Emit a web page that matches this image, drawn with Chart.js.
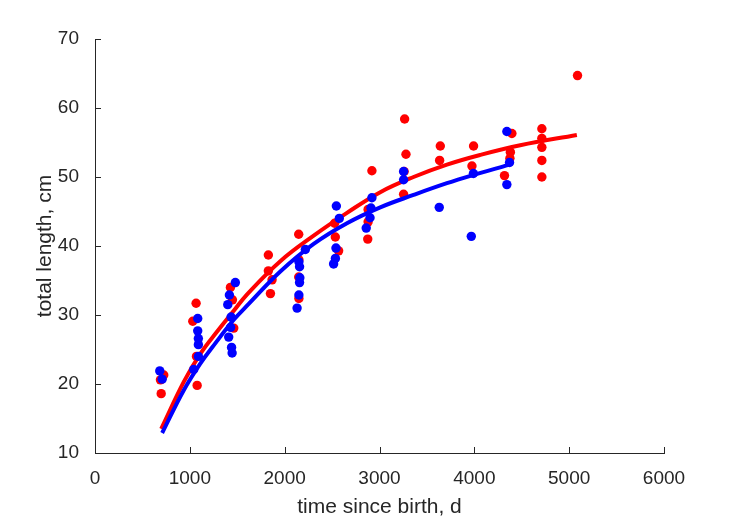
<!DOCTYPE html>
<html>
<head>
<meta charset="utf-8">
<script src="https://cdn.jsdelivr.net/npm/chart.js@4.4.1/dist/chart.umd.min.js"></script>
<style>
  html, body { margin: 0; padding: 0; background: #fff; }
  #wrap { width: 729px; height: 521px; }
</style>
</head>
<body>
<div id="wrap"><canvas id="c" width="729" height="521"></canvas></div>
<script>
// female (red) observations: time since birth (d), total length (cm)
var redT = [690, 725, 698, 1066, 1031, 1077, 1070, 1428, 1449, 1463, 1828, 1828, 1867, 1850,
  2148, 2150, 2148, 2150, 2527, 2534, 2569, 2920, 2880, 2880, 2876, 3265, 3279, 3254, 3260,
  3641, 3634, 3992, 3975, 4396, 4380, 4375, 4318, 4712, 4712, 4712, 4712, 4712, 5088];
var redL = [20.6, 21.3, 18.6, 31.7, 29.1, 19.8, 24.0, 34.0, 32.2, 28.1, 38.7, 36.4, 35.1, 33.1,
  41.7, 38.0, 35.5, 32.4, 43.3, 41.3, 39.3, 50.9, 45.3, 43.5, 41.0, 58.4, 53.3, 47.5, 50.8,
  54.5, 52.4, 54.5, 51.6, 56.3, 53.6, 52.7, 50.2, 57.0, 55.6, 54.3, 52.4, 50.0, 64.7];

// male (blue) observations
var blueT = [683, 708, 1083, 1083, 1090, 1090, 1090, 1041, 1417, 1400, 1435, 1430, 1410, 1440, 1446, 1480,
  2218, 2150, 2157, 2160, 2157, 2150, 2131, 2545, 2576, 2541, 2535, 2516,
  2920, 2910, 2900, 2860, 3254, 3254, 3630, 3990, 3968, 4343, 4371, 4343];
var blueL = [21.9, 20.7, 29.5, 27.7, 26.6, 25.7, 24.0, 22.1, 32.9, 31.5, 29.7, 28.2, 26.8, 25.3, 24.5, 34.7,
  39.5, 37.7, 37.0, 35.4, 34.7, 32.9, 31.0, 45.8, 44.0, 39.7, 38.2, 37.4,
  47.0, 45.5, 44.1, 42.6, 50.8, 49.6, 45.6, 50.5, 41.4, 56.6, 52.1, 48.9];

// fitted growth curves
var redFitT = [698, 936, 1112, 1288, 1463, 1604, 1954, 2306, 2657, 3008, 3359, 3711, 4062, 4484, 5081];
var redFitL = [13.5, 20.3, 24.4, 27.6, 30.6, 33.0, 37.8, 41.5, 44.8, 47.8, 50.0, 51.8, 53.2, 54.6, 56.1];
var blueFitT = [708, 936, 1112, 1252, 1463, 1621, 1954, 2306, 2657, 3008, 3359, 3711, 3992, 4273, 4365];
var blueFitL = [12.9, 19.1, 23.0, 25.6, 29.3, 31.6, 36.3, 40.3, 43.3, 45.6, 47.4, 49.1, 50.3, 51.4, 51.8];

var xTicks = [0, 1000, 2000, 3000, 4000, 5000, 6000];
var yTicks = [10, 20, 30, 40, 50, 60, 70];

function pts(xs, ys) {
  return xs.map(function (x, i) { return {x: x, y: ys[i]}; });
}

var axisColor = '#262626';
var tickFont = {family: 'Liberation Sans, Arial, Helvetica, sans-serif', size: 19};
var titleFont = {family: 'Liberation Sans, Arial, Helvetica, sans-serif', size: 21};

// matlab style ticks pointing into the plot
var innerTicks = {
  id: 'innerTicks',
  afterDraw: function (chart) {
    var ctx = chart.ctx, a = chart.chartArea;
    var sx = chart.scales.x, sy = chart.scales.y;
    ctx.save();
    ctx.strokeStyle = axisColor;
    ctx.lineWidth = 1;
    ctx.beginPath();
    xTicks.forEach(function (v) {
      var p = Math.round(sx.getPixelForValue(v)) + 0.5;
      ctx.moveTo(p, a.bottom);
      ctx.lineTo(p, a.bottom - 6);
    });
    yTicks.forEach(function (v) {
      var p = Math.round(sy.getPixelForValue(v)) + 0.5;
      ctx.moveTo(a.left, p);
      ctx.lineTo(a.left + 6, p);
    });
    ctx.stroke();
    ctx.restore();
  }
};

function noPad(scale) {
  scale.paddingLeft = 0; scale.paddingRight = 0;
  scale.paddingTop = 0; scale.paddingBottom = 0;
}

function plain(v) { return String(v); }

new Chart(document.getElementById('c'), {
  type: 'scatter',
  data: {
    datasets: [
      {
        label: 'male fit', type: 'line', data: pts(blueFitT, blueFitL), order: 0,
        borderColor: '#0000FF', borderWidth: 4, pointRadius: 0, fill: false,
        tension: 0.4, borderCapStyle: 'butt'
      },
      {
        label: 'male', data: pts(blueT, blueL), order: 1,
        backgroundColor: '#0000FF', borderWidth: 0, pointRadius: 4.7
      },
      {
        label: 'female fit', type: 'line', data: pts(redFitT, redFitL), order: 2,
        borderColor: '#FF0000', borderWidth: 4, pointRadius: 0, fill: false,
        tension: 0.4, borderCapStyle: 'butt'
      },
      {
        label: 'female', data: pts(redT, redL), order: 3,
        backgroundColor: '#FF0000', borderWidth: 0, pointRadius: 4.7
      }
    ]
  },
  options: {
    responsive: false,
    animation: false,
    events: [],
    layout: {padding: {top: 39, right: 65, bottom: 0, left: 0}},
    plugins: {legend: {display: false}, tooltip: {enabled: false}},
    scales: {
      x: {
        type: 'linear', min: 0, max: 6000,
        afterBuildTicks: function (s) { s.ticks = xTicks.map(function (v) { return {value: v}; }); },
        afterFit: function (s) { s.height = 68; noPad(s); },
        grid: {display: false},
        border: {display: true, color: axisColor, width: 1},
        ticks: {color: axisColor, font: tickFont, padding: 6, maxRotation: 0, autoSkip: false, callback: plain},
        title: {display: true, text: 'time since birth, d', color: axisColor, font: titleFont,
          padding: {top: 0, bottom: 1}}
      },
      y: {
        type: 'linear', min: 10, max: 70,
        afterBuildTicks: function (s) { s.ticks = yTicks.map(function (v) { return {value: v}; }); },
        afterFit: function (s) { s.width = 95; noPad(s); },
        grid: {display: false},
        border: {display: true, color: axisColor, width: 1},
        ticks: {color: axisColor, font: tickFont, padding: 8, autoSkip: false, callback: plain},
        title: {display: true, text: 'total length, cm', color: axisColor, font: titleFont,
          padding: {top: 33, bottom: 0}}
      }
    }
  },
  plugins: [innerTicks]
});
</script>
</body>
</html>
